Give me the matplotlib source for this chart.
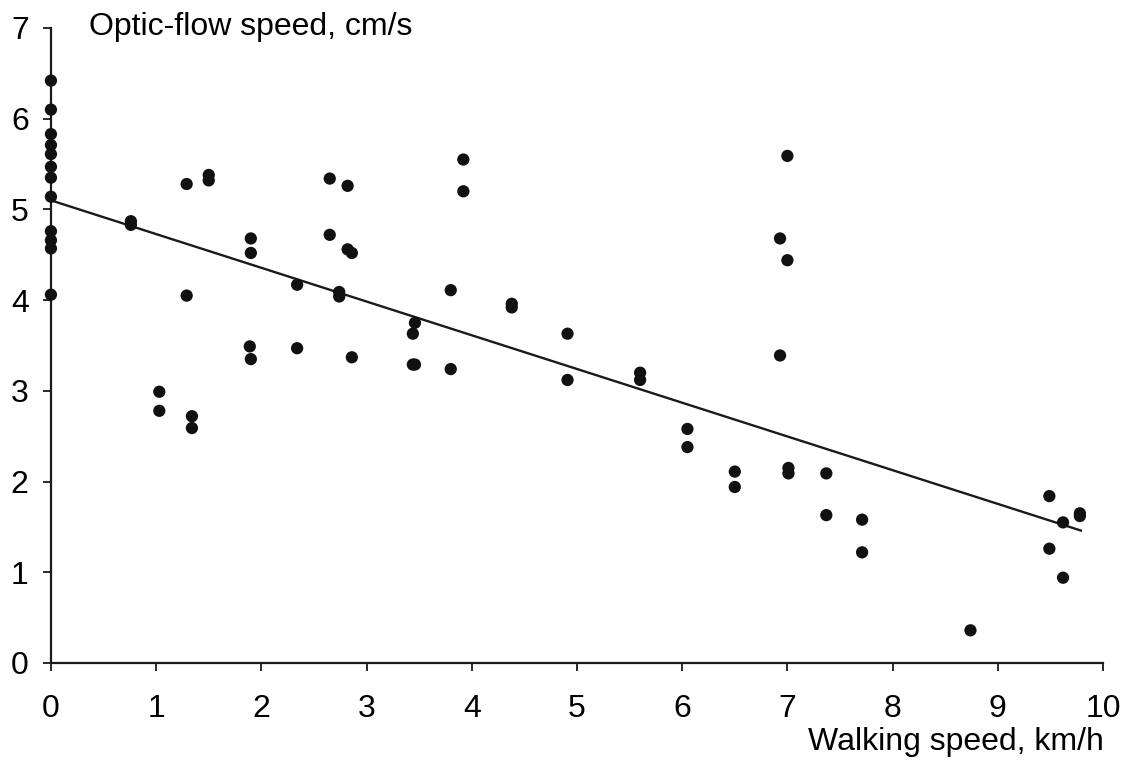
import matplotlib
matplotlib.use("Agg")
import matplotlib.pyplot as plt

plt.rcParams['font.family'] = ['Liberation Sans', 'DejaVu Sans']

walking_speed = [0, 0, 0, 0, 0, 0, 0, 0, 0, 0, 0, 0,
                 0.76, 0.76,
                 1.03, 1.03, 1.29, 1.29, 1.34, 1.34, 1.50, 1.50,
                 1.89, 1.90, 1.90, 1.90,
                 2.34, 2.34, 2.65, 2.65, 2.74, 2.74, 2.82, 2.82, 2.86, 2.86,
                 3.44, 3.46, 3.44, 3.46, 3.80, 3.80, 3.92, 3.92,
                 4.38, 4.38, 4.91, 4.91,
                 5.60, 5.60, 6.05, 6.05, 6.50, 6.50,
                 6.93, 6.93, 7.00, 7.00, 7.01, 7.01,
                 7.37, 7.37, 7.71, 7.71, 8.74,
                 9.49, 9.49, 9.62, 9.62, 9.78, 9.78]
optic_flow = [6.42, 6.10, 5.83, 5.71, 5.61, 5.47, 5.35, 5.14, 4.76, 4.66, 4.57, 4.06,
              4.87, 4.83,
              2.99, 2.78, 5.28, 4.05, 2.72, 2.59, 5.38, 5.32,
              3.49, 3.35, 4.68, 4.52,
              4.17, 3.47, 5.34, 4.72, 4.09, 4.04, 5.26, 4.56, 4.52, 3.37,
              3.63, 3.75, 3.29, 3.29, 4.11, 3.24, 5.55, 5.20,
              3.96, 3.92, 3.63, 3.12,
              3.20, 3.12, 2.58, 2.38, 2.11, 1.94,
              4.68, 3.39, 5.59, 4.44, 2.15, 2.09,
              2.09, 1.63, 1.58, 1.22, 0.36,
              1.84, 1.26, 1.55, 0.94, 1.65, 1.62]

trend_x = [0.0, 9.79]
trend_y = [5.10, 1.46]

x_ticks = list(range(0, 11))
y_ticks = list(range(0, 8))

fig = plt.figure(figsize=(11.32, 7.67), dpi=100)
ax = fig.add_axes([0.045, 0.1356, 0.9294, 0.8279])

ax.plot(trend_x, trend_y, color='#1a1a1a', lw=1.7, zorder=2)
ax.scatter(walking_speed, optic_flow, s=78, color='#111111', edgecolors='none',
           zorder=3, clip_on=False)

ax.set_xlim(0, 10)
ax.set_ylim(0, 7)
ax.set_xticks(x_ticks)
ax.set_yticks(y_ticks)
ax.tick_params(axis='both', direction='out', length=6, width=1.3, labelsize=23,
               colors='#1a1a1a', labelcolor='black')
ax.tick_params(axis='x', pad=16)
ax.tick_params(axis='y', pad=10)
for side in ['top', 'right']:
    ax.spines[side].set_visible(False)
for side in ['left', 'bottom']:
    ax.spines[side].set_linewidth(1.6)
    ax.spines[side].set_color('#1a1a1a')

fig.text(89/1132, 1 - 27/767, 'Optic-flow speed, cm/s', ha='left', va='center', fontsize=23)
fig.text(1104/1132, 1 - 742/767, 'Walking speed, km/h', ha='right', va='center', fontsize=23)

fig.savefig('out.png', dpi=100, facecolor='white')
